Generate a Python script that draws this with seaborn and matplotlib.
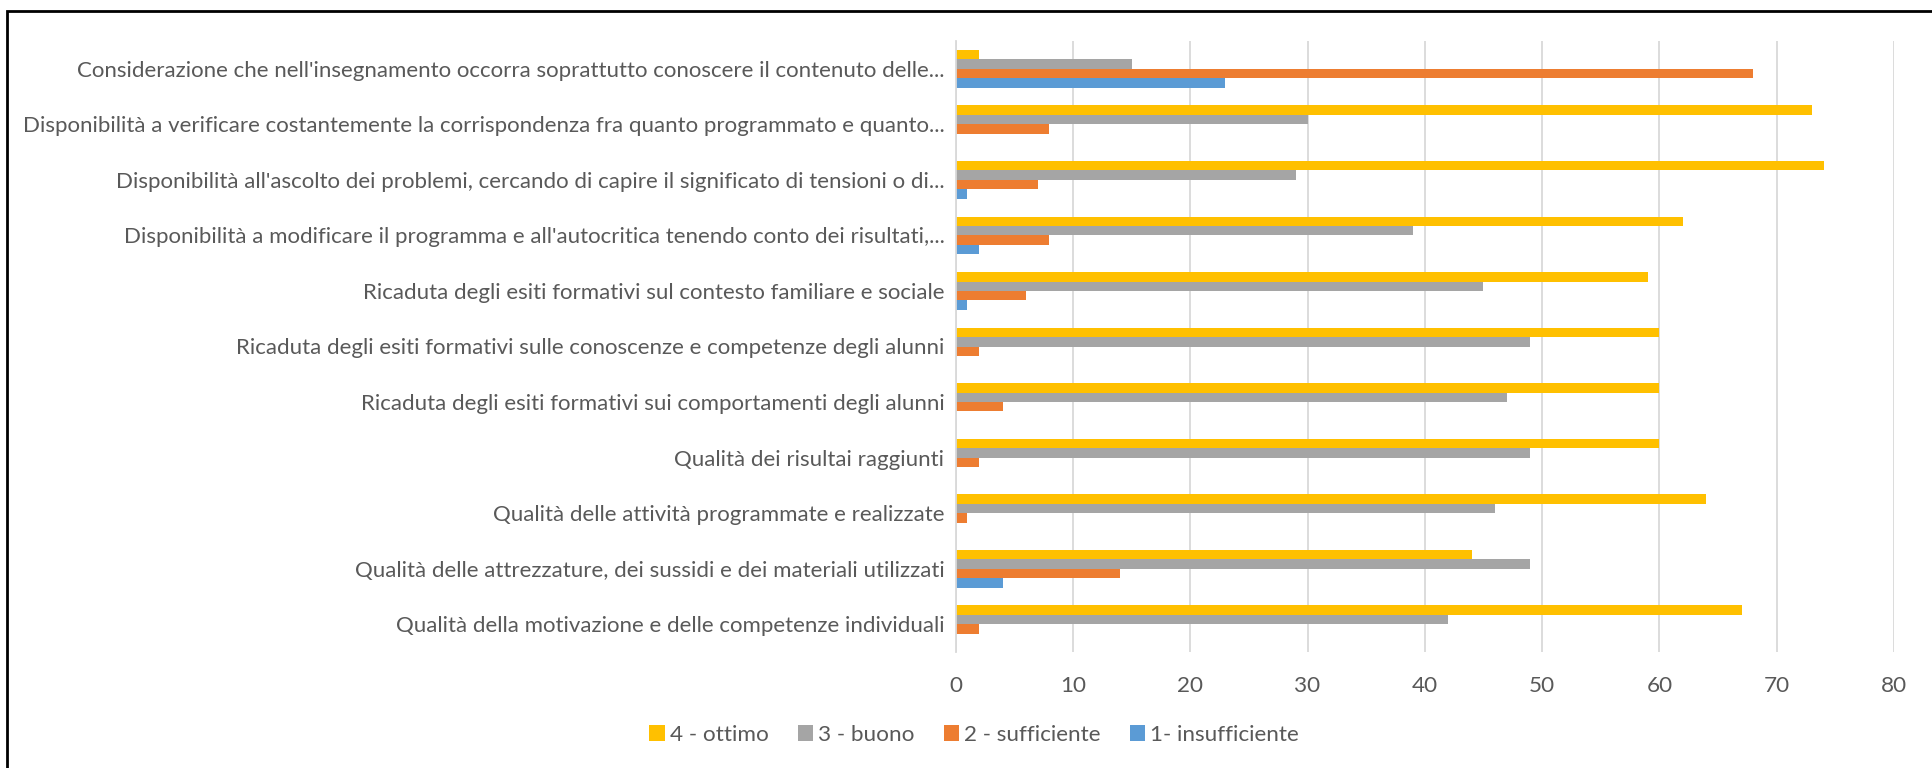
import matplotlib
matplotlib.use("Agg")
import matplotlib.pyplot as plt
import seaborn as sns
import pandas as pd
from matplotlib.patches import Rectangle, Patch

categories = [
    "Considerazione che nell'insegnamento occorra soprattutto conoscere il contenuto delle...",
    "Disponibilità a verificare costantemente la corrispondenza fra quanto programmato e quanto...",
    "Disponibilità all'ascolto dei problemi, cercando di capire il significato di tensioni o di...",
    "Disponibilità a modificare il programma e all'autocritica tenendo conto dei risultati,...",
    "Ricaduta degli esiti formativi sul contesto familiare e sociale",
    "Ricaduta degli esiti formativi sulle conoscenze e competenze degli alunni",
    "Ricaduta degli esiti formativi sui comportamenti degli alunni",
    "Qualità dei risultai raggiunti",
    "Qualità delle attività programmate e realizzate",
    "Qualità delle attrezzature, dei sussidi e dei materiali utilizzati",
    "Qualità della motivazione e delle competenze individuali",
]
series_names = ["4 - ottimo", "3 - buono", "2 - sufficiente", "1- insufficiente"]
ottimo = [2, 73, 74, 62, 59, 60, 60, 60, 64, 44, 67]
buono = [15, 30, 29, 39, 45, 49, 47, 49, 46, 49, 42]
sufficiente = [68, 8, 7, 8, 6, 2, 4, 2, 1, 14, 2]
insufficiente = [23, 0, 1, 2, 1, 0, 0, 0, 0, 4, 0]
colors = ["#FFC000", "#A5A5A5", "#ED7D31", "#5B9BD5"]
xticks = [0, 10, 20, 30, 40, 50, 60, 70, 80]

rows = []
for name, vals in zip(series_names, [ottimo, buono, sufficiente, insufficiente]):
    for c, v in zip(categories, vals):
        rows.append({"cat": c, "serie": name, "val": v})
df = pd.DataFrame(rows)

sns.set_style("white")
plt.rcParams["font.family"] = ["Lato", "DejaVu Sans"]
txt = "#595959"

fig = plt.figure(figsize=(19.32, 7.68), dpi=100)
ax = fig.add_axes([955.6 / 1932, 1 - 652 / 768, (1894 - 955.6) / 1932, (652 - 41) / 768])

sns.barplot(data=df, y="cat", x="val", hue="serie", order=categories,
            hue_order=series_names, palette=colors, orient="h",
            width=0.68, linewidth=0, saturation=1, ax=ax, legend=False)

ax.set_xlim(0, 80)
ax.set_xticks(xticks)
ax.set_xticklabels([str(t) for t in xticks])
ax.grid(axis="x", color="#D9D9D9", linewidth=1.3)
ax.set_axisbelow(True)
for s in ["top", "right", "bottom"]:
    ax.spines[s].set_visible(False)
ax.spines["left"].set_color("#D9D9D9")
ax.spines["left"].set_linewidth(1.3)
ax.set_xlabel("")
ax.set_ylabel("")
ax.tick_params(axis="y", length=0, pad=8, labelsize=16.0, labelcolor=txt)
ax.tick_params(axis="x", length=0, pad=17, labelsize=16.2, labelcolor=txt)

handles = [Patch(facecolor=c, edgecolor="none") for c in colors]
fig.legend(handles, series_names, loc="center", bbox_to_anchor=(974 / 1932, 1 - 735 / 768),
           ncol=4, frameon=False, fontsize=16.2, labelcolor=txt,
           handlelength=0.7, handleheight=0.7, handletextpad=0.2, columnspacing=1.3)

fig.patches.append(Rectangle((7 / 1932, -0.05), 1.2, 1 - 11 / 768 + 0.05,
                             transform=fig.transFigure, fill=False,
                             edgecolor="black", linewidth=2))

fig.savefig("out.png", dpi=100)
